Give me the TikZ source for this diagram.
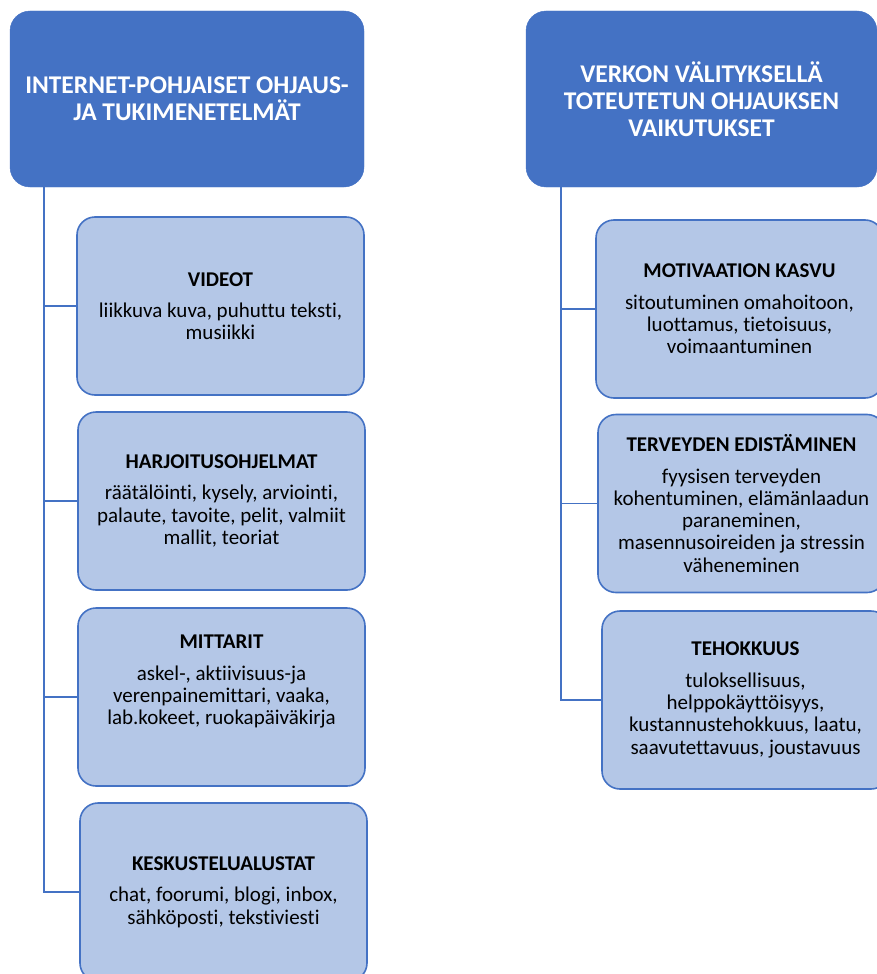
\documentclass[tikz,border=0pt]{standalone}
\usepackage{fontspec}
\setmainfont{Carlito}[Ligatures=NoCommon]
\definecolor{hdr}{HTML}{4472C4}
\definecolor{sub}{HTML}{B4C7E7}
\begin{document}
\begin{tikzpicture}[x=1pt,y=-1pt,
  hdrbox/.style={draw=hdr, fill=hdr, rounded corners=20pt, text=white,
    font=\fontsize{25.5}{27}\selectfont\bfseries, align=center, inner sep=0pt},
  subbox/.style={draw=hdr, line width=1.6pt, fill=sub, rounded corners=18pt,
    align=center, font=\fontsize{21}{22.3}\selectfont, text=black,
    minimum width=287pt, minimum height=178pt, inner sep=0pt},
  conn/.style={draw=hdr, line width=1.6pt}]
\useasboundingbox (0,0) rectangle (877,974);
\clip (0,0) rectangle (877,974);
% headers
\node[hdrbox, minimum width=354pt, minimum height=176pt] (h1) at (187,99)
  {INTERNET-POHJAISET OHJAUS-\\JA TUKIMENETELMÄT};
\node[hdrbox, minimum width=351pt, minimum height=176pt] (h2) at (701.5,99)
  {VERKON VÄLITYKSELLÄ\\TOTEUTETUN OHJAUKSEN\\VAIKUTUKSET};
% trunk anchors
\coordinate (t1) at (44,187);
\coordinate (t2) at (561,187);
% left boxes
\node[subbox] (b1) at (220.5,306)
  {\textbf{VIDEOT}\\[9pt]liikkuva kuva, puhuttu teksti,\\musiikki};
\node[subbox] (b2) at (221.5,501)
  {\textbf{HARJOITUSOHJELMAT}\\[9pt]räätälöinti, kysely, arviointi,\\palaute, tavoite, pelit, valmiit\\mallit, teoriat};
\node[subbox] (b3) at (221.5,697)
  {\textbf{MITTARIT}\\[9pt]askel-, aktiivisuus-ja\\verenpainemittari, vaaka,\\lab.kokeet, ruokapäiväkirja\\[12pt]\mbox{}};
\node[subbox] (b4) at (223.5,892)
  {\textbf{KESKUSTELUALUSTAT}\\[9pt]chat, foorumi, blogi, inbox,\\sähköposti, tekstiviesti};
% right boxes
\node[subbox] (r1) at (739.5,309)
  {\textbf{MOTIVAATION KASVU}\\[9pt]sitoutuminen omahoitoon,\\luottamus, tietoisuus,\\voimaantuminen};
\node[subbox] (r2) at (741.5,503.5)
  {\textbf{TERVEYDEN EDISTÄMINEN}\\[9pt]fyysisen terveyden\\kohentuminen, elämänlaadun\\paraneminen,\\masennusoireiden ja stressin\\väheneminen};
\node[subbox] (r3) at (745.5,700)
  {\textbf{TEHOKKUUS}\\[9pt]tuloksellisuus,\\helppokäyttöisyys,\\kustannustehokkuus, laatu,\\saavutettavuus, joustavuus};
% connectors
\draw[conn] (t1) |- (b4.west);
\draw[conn] (t1 |- b1.west) -- (b1.west);
\draw[conn] (t1 |- b2.west) -- (b2.west);
\draw[conn] (t1 |- b3.west) -- (b3.west);
\draw[conn] (t2) |- (r3.west);
\draw[conn] (t2 |- r1.west) -- (r1.west);
\draw[conn] (t2 |- r2.west) -- (r2.west);
\end{tikzpicture}
\end{document}
